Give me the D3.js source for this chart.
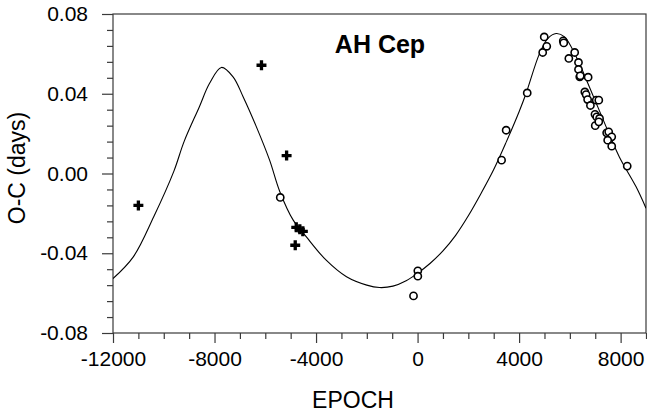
<!DOCTYPE html>
<html>
<head>
<meta charset="utf-8">
<script src="https://cdn.jsdelivr.net/npm/d3@7"></script>
<style>
  body { margin: 0; background: #fff; }
  svg text { font-family: "Liberation Sans", Arial, sans-serif; fill: #000; }
</style>
</head>
<body>
<script>
/* ---- data ---- */
// fitted curve (epoch, O-C)
var curveEpoch = [-12000, -11200, -10400, -9600, -9200, -8600, -8200, -7730, -7270, -6870,
	-6350, -5830, -5430, -4900, -4380, -3600, -2800, -2000, -1500, -970,
	-450, 0, 500, 1000, 1500, 2000, 2500, 3000, 3500,
	4000, 4270, 4800, 5130, 5460, 5790, 6250, 6770, 7430, 7950, 8610, 9000];
var curveOC = [-0.0527, -0.0418, -0.0218, 0.0012, 0.0160, 0.0334, 0.0451, 0.0532, 0.0485, 0.0384,
	0.0234, 0.0067, -0.0090, -0.0234, -0.0318, -0.0435, -0.0518, -0.0560, -0.0572, -0.0565,
	-0.0538, -0.0500, -0.0450, -0.0388, -0.0310, -0.0212, -0.0100, 0.0020, 0.0160,
	0.0310, 0.0400, 0.0600, 0.0677, 0.0702, 0.0685, 0.0585, 0.0434, 0.0234, 0.0083, -0.0067, -0.0174];

// visual timings (crosses)
var visEpoch = [-11000, -6150, -5160, -4780, -4640, -4520, -4820];
var visOC = [-0.0160, 0.0543, 0.0090, -0.0270, -0.0280, -0.0290, -0.0360];

// photoelectric / CCD timings (open circles)
var pecEpoch = [-5410, 10, 10, -160, 3310, 3490, 4320, 4930, 5090, 4990,
	5740, 5760, 5960, 6190, 6340, 6340, 6390, 6410, 6720, 6590,
	6640, 6700, 6810, 7040, 7140, 6990, 7060, 7170, 7000, 7140,
	7450, 7530, 7650, 7490, 7650, 8260];
var pecOC = [-0.0120, -0.0488, -0.0515, -0.0614, 0.0067, 0.0217, 0.0404, 0.0607, 0.0638, 0.0685,
	0.0665, 0.0655, 0.0577, 0.0607, 0.0557, 0.0522, 0.0485, 0.0490, 0.0483, 0.0409,
	0.0396, 0.0371, 0.0341, 0.0368, 0.0368, 0.0297, 0.0284, 0.0276, 0.0240, 0.0259,
	0.0204, 0.0209, 0.0184, 0.0167, 0.0137, 0.0037];

var xMajor = [-12000, -8000, -4000, 0, 4000, 8000];
var yMajor = [-0.08, -0.04, 0.00, 0.04, 0.08];

/* ---- layout ---- */
var W = 647, H = 413;
var mLeft = 113, mRight = 646, mTop = 14, mBottom = 333;

var svg = d3.select("body").append("svg")
	.attr("width", W)
	.attr("height", H);

var x = d3.scaleLinear().domain([-12000, 9000]).range([mLeft, mRight]);
var y = d3.scaleLinear().domain([-0.08, 0.08]).range([mBottom, mTop]);

var axisColor = "#3a3a3a";

// plain hyphen for negatives, like the original
var fmtX = function(d) { return String(d); };
var fmtY = function(d) { return d.toFixed(2); };

// minor ticks first, then major ticks with labels
var xMinor = d3.range(-12000, 9001, 1000).filter(function(d) { return xMajor.indexOf(d) < 0; });
var yMinor = d3.range(-10, 11).map(function(d) { return d * 0.008; })
	.filter(function(d) { return !yMajor.some(function(m) { return Math.abs(m - d) < 1e-9; }); });

svg.append("g")
	.attr("transform", "translate(0," + mBottom + ")")
	.call(d3.axisBottom(x).tickValues(xMinor).tickSize(6).tickFormat(""))
	.call(function(g) { g.select(".domain").remove(); });

svg.append("g")
	.attr("transform", "translate(" + mLeft + ",0)")
	.call(d3.axisLeft(y).tickValues(yMinor).tickSize(6).tickFormat(""))
	.call(function(g) { g.select(".domain").remove(); });

var gx = svg.append("g")
	.attr("transform", "translate(0," + mBottom + ")")
	.call(d3.axisBottom(x).tickValues(xMajor).tickSize(10).tickPadding(8).tickFormat(fmtX));
gx.select(".domain").remove();
gx.attr("font-family", null).attr("font-size", null);
gx.selectAll("text").attr("font-size", "21px");

var gy = svg.append("g")
	.attr("transform", "translate(" + mLeft + ",0)")
	.call(d3.axisLeft(y).tickValues(yMajor).tickSize(11).tickPadding(14).tickFormat(fmtY));
gy.select(".domain").remove();
gy.attr("font-family", null).attr("font-size", null);
gy.selectAll("text").attr("font-size", "21px");

svg.selectAll(".tick line").attr("stroke", axisColor).attr("stroke-width", 1.2);

// frame
svg.append("rect")
	.attr("x", mLeft)
	.attr("y", mTop)
	.attr("width", mRight - mLeft)
	.attr("height", mBottom - mTop)
	.attr("fill", "none")
	.attr("stroke", axisColor)
	.attr("stroke-width", 1.2);

// clip for the curve
svg.append("clipPath").attr("id", "plot")
	.append("rect")
	.attr("x", mLeft).attr("y", mTop)
	.attr("width", mRight - mLeft).attr("height", mBottom - mTop);

var line = d3.line()
	.x(function(d, i) { return x(curveEpoch[i]); })
	.y(function(d) { return y(d); })
	.curve(d3.curveCatmullRom.alpha(0.5));

svg.append("path")
	.datum(curveOC)
	.attr("clip-path", "url(#plot)")
	.attr("d", line)
	.attr("fill", "none")
	.attr("stroke", "#000")
	.attr("stroke-width", 1.1);

// open circles
svg.selectAll("circle.pe")
	.data(pecOC)
	.enter()
	.append("circle")
	.attr("class", "pe")
	.attr("cx", function(d, i) { return x(pecEpoch[i]); })
	.attr("cy", function(d) { return y(d); })
	.attr("r", 3.6)
	.attr("fill", "#fff")
	.attr("stroke", "#000")
	.attr("stroke-width", 1.6);

// crosses
svg.selectAll("path.vis")
	.data(visOC)
	.enter()
	.append("path")
	.attr("class", "vis")
	.attr("d", d3.symbol(d3.symbolCross, 55))
	.attr("transform", function(d, i) {
		return "translate(" + x(visEpoch[i]) + "," + y(d) + ")";
	})
	.attr("fill", "#000");

// texts
svg.append("text")
	.attr("x", 380)
	.attr("y", 53)
	.attr("text-anchor", "middle")
	.attr("font-size", "25px")
	.attr("font-weight", "bold")
	.text("AH Cep");

svg.append("text")
	.attr("x", 353)
	.attr("y", 408)
	.attr("text-anchor", "middle")
	.attr("font-size", "23px")
	.text("EPOCH");

svg.append("text")
	.attr("transform", "translate(25,168) rotate(-90)")
	.attr("text-anchor", "middle")
	.attr("font-size", "23px")
	.text("O-C (days)");
</script>
</body>
</html>
